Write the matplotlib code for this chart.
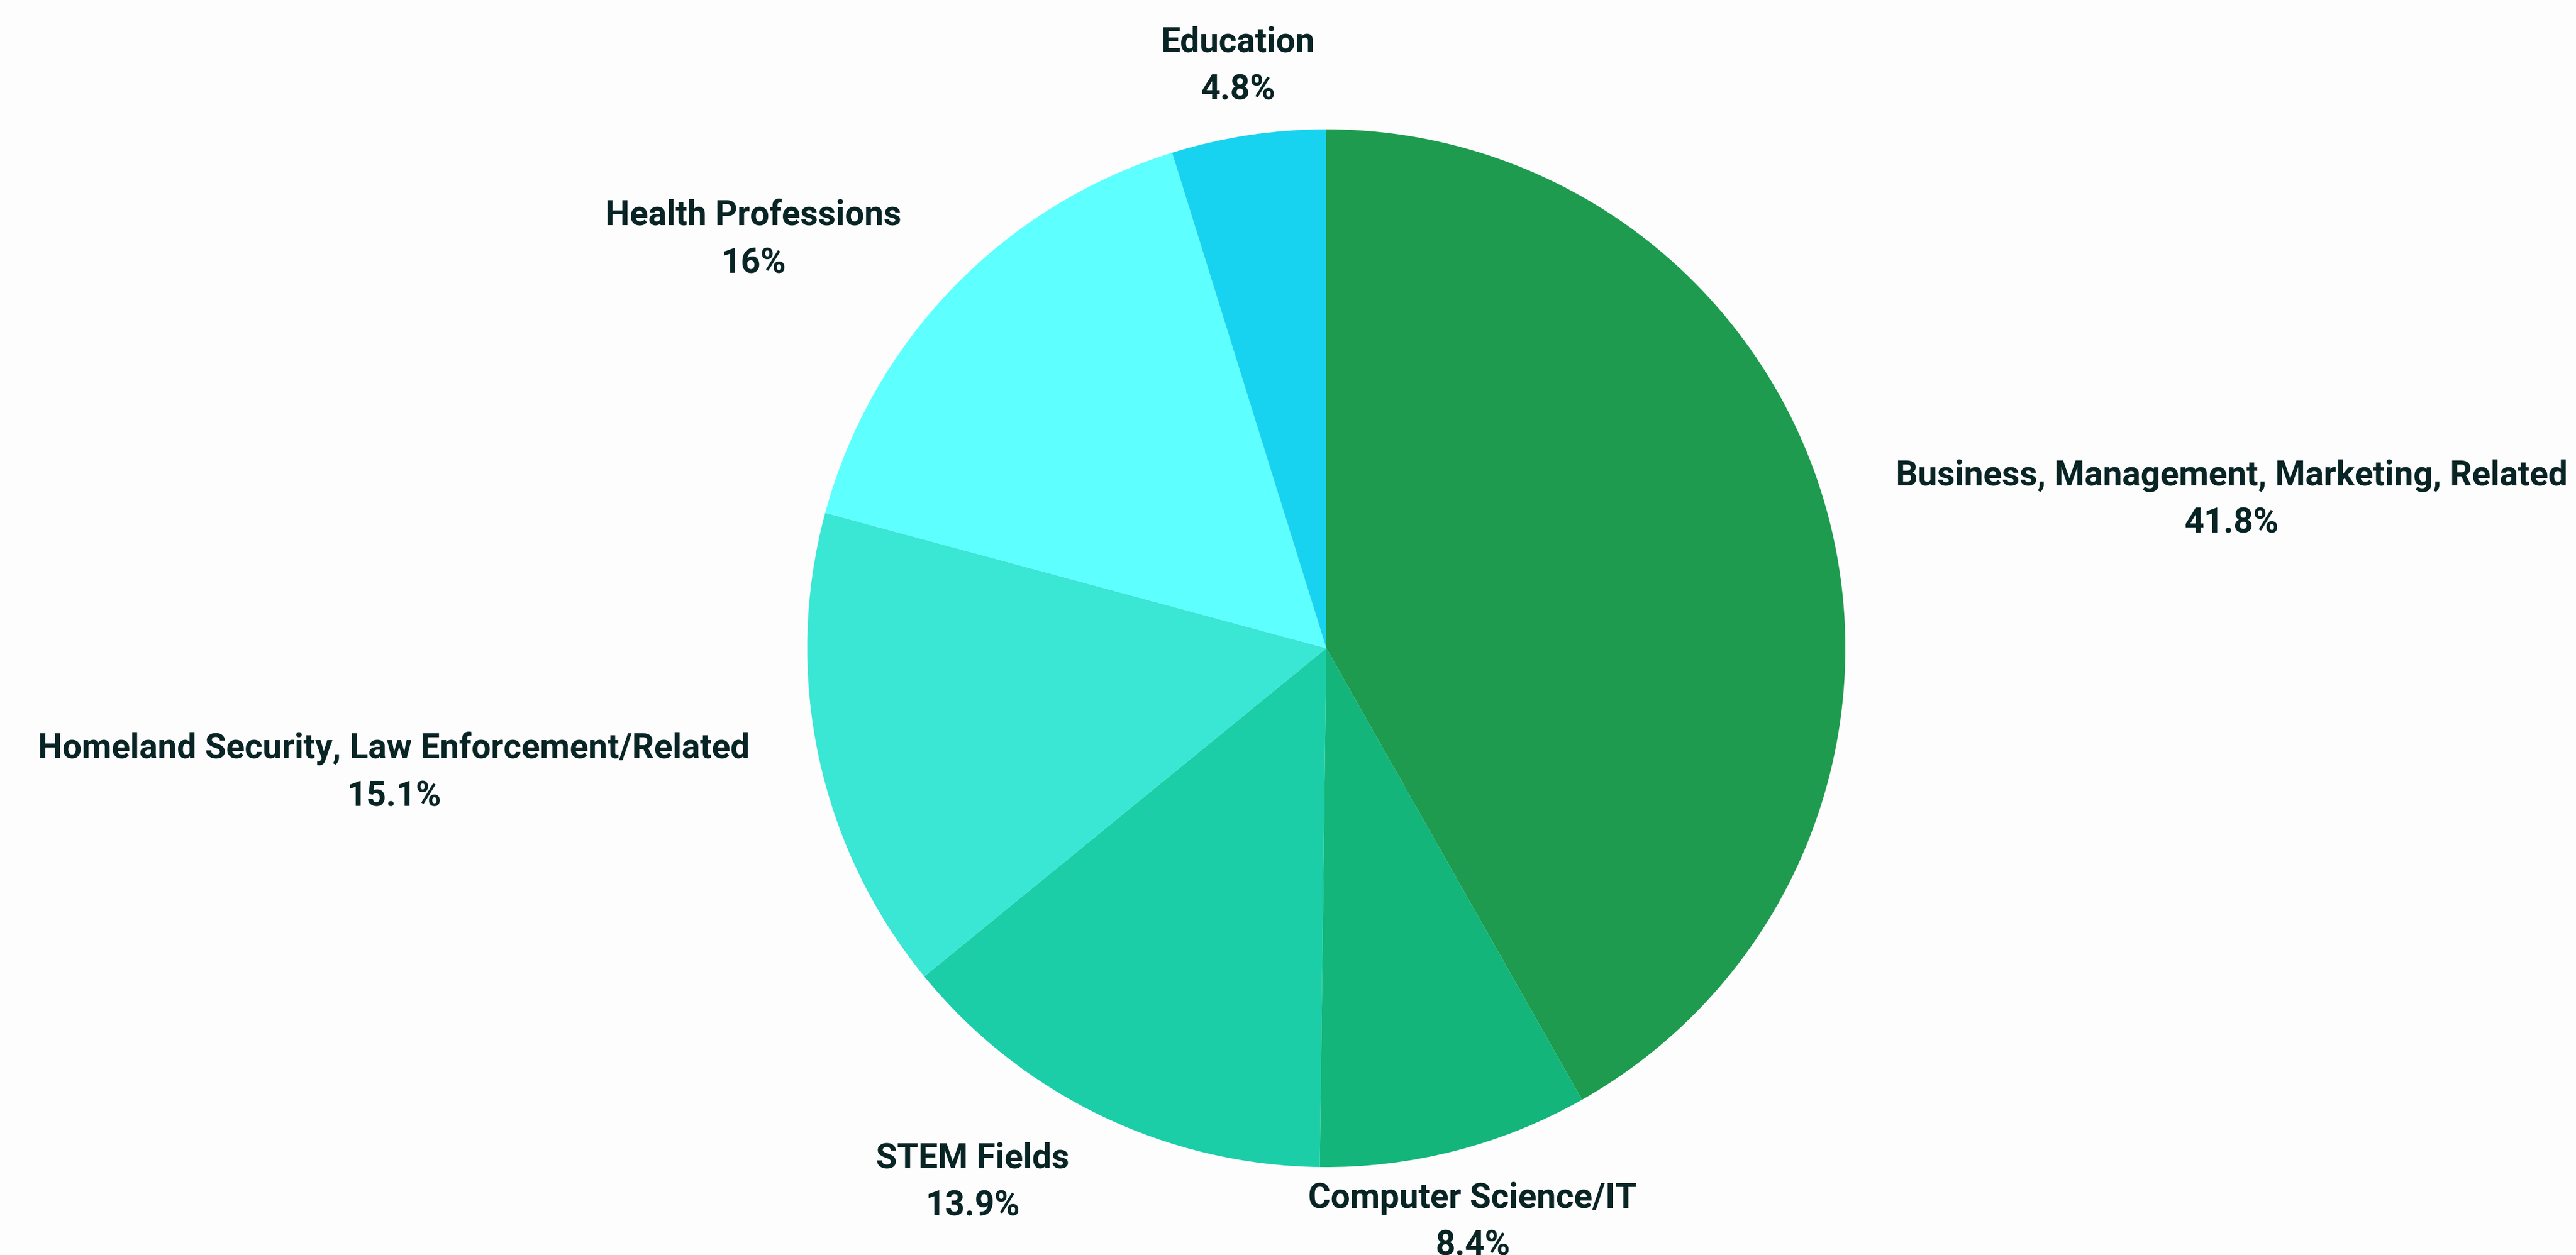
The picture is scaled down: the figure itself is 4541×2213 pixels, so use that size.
import matplotlib
matplotlib.use("Agg")
import matplotlib.pyplot as plt

categories = ["Business, Management, Marketing, Related", "Computer Science/IT",
              "STEM Fields", "Homeland Security, Law Enforcement/Related",
              "Health Professions", "Education"]
values = [41.8, 8.4, 13.9, 15.1, 16, 4.8]
pct_labels = ["41.8%", "8.4%", "13.9%", "15.1%", "16%", "4.8%"]
colors = ["#1E9B4E", "#13B57A", "#1BCEA8", "#3AE6D4", "#5EFFFF", "#18D3F0"]

W, H = 4541, 2213
fig = plt.figure(figsize=(W / 100, H / 100), dpi=100)
bg = "#FEFDFE"
fig.patch.set_facecolor(bg)
ax = fig.add_axes([0, 0, 1, 1])
ax.set_facecolor(bg)

cx, cy, r = 2338, 1143, 915
ax.pie(values, colors=colors, startangle=90, counterclock=False,
       center=(cx, -cy), radius=r, wedgeprops=dict(linewidth=0),
       frame=False)
ax.set_ylim(-H, 0)
ax.set_xlim(0, W)
ax.set_aspect("equal")
ax.axis("off")

# label positions (center x, baseline y of name line) in pixel coords (y down)
label_pos = [(3934, 856), (2596, 2130), (1714, 2059), (694, 1337), (1328, 397), (2182, 91)]
line_gap = 84
tc = "#082424"
for name, pct, (x, y) in zip(categories, pct_labels, label_pos):
    ax.text(x, -y, name, ha="center", va="baseline", fontsize=43.7,
            fontfamily="Roboto", fontweight="bold", color=tc)
    ax.text(x, -(y + line_gap), pct, ha="center", va="baseline", fontsize=43.7,
            fontfamily="Roboto", fontweight="bold", color=tc)

fig.savefig("out.png", dpi=100, facecolor=bg)
